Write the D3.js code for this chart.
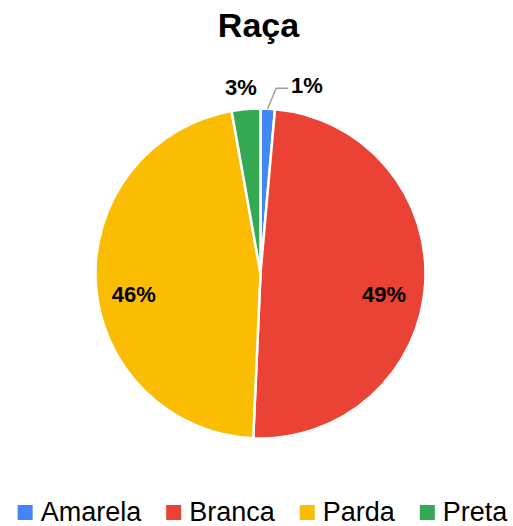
<!DOCTYPE html>
<html>
<head>
<meta charset="utf-8">
<script src="https://cdn.jsdelivr.net/npm/d3@7"></script>
<style>
  body { margin: 0; background: #fff; }
  svg { display: block; font-family: Arial, "Liberation Sans", sans-serif; }
</style>
</head>
<body>
<div id="chart"></div>
<script>
// data
const categories = ['Amarela', 'Branca', 'Parda', 'Preta'];
const values = [1.4, 49.3, 46.5, 2.8];
const labels = ['1%', '49%', '46%', '3%'];
const colors = ['#4285f4', '#ea4335', '#fbbc04', '#34a853'];

const width = 513;
const height = 526;
const cx = 260.5;
const cy = 273.5;
const radius = 165;

const svg = d3.select('#chart')
  .append('svg')
  .attr('width', width)
  .attr('height', height);

svg.append('text')
  .attr('x', 258.5)
  .attr('y', 37)
  .attr('text-anchor', 'middle')
  .style('font-size', '34px')
  .style('font-weight', 'bold')
  .text('Raça');

const data = categories.map((c, i) => ({ name: c, value: values[i], label: labels[i], color: colors[i] }));

const pie = d3.pie()
  .value(d => d.value)
  .sort(null);

const arcs = pie(data);

const arc = d3.arc()
  .innerRadius(0)
  .outerRadius(radius);

const labelArc = d3.arc()
  .innerRadius(radius * 0.76)
  .outerRadius(radius * 0.76);

const chart = svg.append('g')
  .attr('transform', `translate(${cx}, ${cy})`);

chart.selectAll('path.slice')
  .data(arcs)
  .enter()
  .append('path')
  .attr('class', 'slice')
  .attr('d', arc)
  .attr('fill', d => d.data.color)
  .attr('stroke', '#fff')
  .attr('stroke-width', 2.5)
  .attr('stroke-linejoin', 'round');

const share = d => (d.endAngle - d.startAngle) / (2 * Math.PI);

// inside labels for big slices
chart.selectAll('text.inner')
  .data(arcs.filter(d => share(d) > 0.1))
  .enter()
  .append('text')
  .attr('class', 'inner')
  .attr('transform', d => {
    const [x, y] = labelArc.centroid(d);
    return `translate(${x - 1.5}, ${y + 13})`;
  })
  .attr('text-anchor', 'middle')
  .attr('dominant-baseline', 'central')
  .style('font-size', '22px')
  .style('font-weight', 'bold')
  .text(d => d.data.label);

// outside labels for small slices
const mid = d => (d.startAngle + d.endAngle) / 2;
const small = arcs.filter(d => share(d) <= 0.1);

small.forEach(d => {
  const a = mid(d);
  if (share(d) < 0.02) {
    // leader line
    const p0 = [radius * Math.sin(a), -radius * Math.cos(a)];
    const a1 = a + 0.04;
    const p1 = [(radius + 21) * Math.sin(a1), -(radius + 21) * Math.cos(a1)];
    const p2 = [p1[0] + 12, p1[1]];
    chart.append('polyline')
      .attr('points', [p0, p1, p2].map(p => p.join(',')).join(' '))
      .attr('fill', 'none')
      .attr('stroke', '#9e9e9e')
      .attr('stroke-width', 1.5);
    chart.append('text')
      .attr('x', p2[0] + 3)
      .attr('y', p2[1] - 3)
      .attr('dominant-baseline', 'central')
      .style('font-size', '22px')
      .style('font-weight', 'bold')
      .text(d.data.label);
  } else {
    const r = radius + 24;
    chart.append('text')
      .attr('x', r * Math.sin(a) - 3)
      .attr('y', -r * Math.cos(a) + 2)
      .attr('text-anchor', 'middle')
      .attr('dominant-baseline', 'central')
      .style('font-size', '22px')
      .style('font-weight', 'bold')
      .text(d.data.label);
  }
});

// legend
const legend = svg.append('g');
const items = legend.selectAll('g.item')
  .data(data)
  .enter()
  .append('g')
  .attr('class', 'item');

items.append('rect')
  .attr('width', 15)
  .attr('height', 15)
  .attr('y', 505)
  .attr('fill', d => d.color);

items.append('text')
  .attr('x', 23)
  .attr('y', 521)
  .style('font-size', '27px')
  .text(d => d.name);

let xPos = 0;
items.each(function () {
  const g = d3.select(this);
  g.attr('transform', `translate(${xPos}, 0)`);
  xPos += 23 + g.select('text').node().getComputedTextLength() + 25;
});
const total = xPos - 25;
legend.attr('transform', `translate(${262.5 - total / 2}, 0)`);
</script>
</body>
</html>
